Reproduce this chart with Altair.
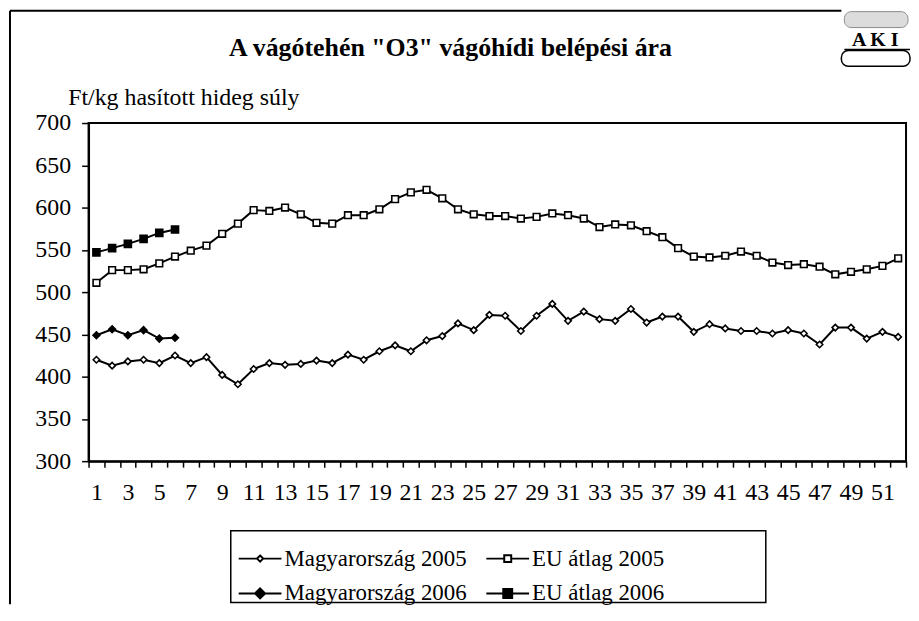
import altair as alt
import pandas as pd

weeks = list(range(1, 53))
series_names = ["Magyarország 2005", "EU átlag 2005", "Magyarország 2006", "EU átlag 2006"]
legend_order = ["Magyarország 2005", "Magyarország 2006", "EU átlag 2005", "EU átlag 2006"]
hu_2005 = [420, 413, 418, 420, 416, 425, 416, 423, 402, 391, 409, 416, 414, 415, 419, 416,
           426, 420, 430, 437, 430, 443, 448, 463, 455, 473, 472, 454, 472, 486, 466, 477,
           468, 466, 480, 464, 471, 471, 453, 462, 457, 454, 454, 451, 455, 451, 438, 458,
           458, 445, 453, 447]
eu_2005 = [511, 526, 526, 527, 534, 542, 549, 555, 569, 581, 597, 596, 600, 592, 582, 581,
           591, 591, 598, 610, 618, 621, 611, 598, 592, 590, 590, 587, 589, 593, 591, 587,
           577, 580, 579, 572, 565, 552, 542, 541, 543, 548, 543, 535, 532, 533, 530, 521,
           524, 527, 531, 540]
hu_2006 = [449, 456, 449, 455, 445, 446]
eu_2006 = [547, 552, 557, 563, 570, 574]
y_ticks = [300, 350, 400, 450, 500, 550, 600, 650, 700]
title_text = 'A vágótehén "O3" vágóhídi belépési ára'
y_title = "Ft/kg hasított hideg súly"
logo_text = "A K I"

rows = []
for name, vals in zip(series_names, [hu_2005, eu_2005, hu_2006, eu_2006]):
    for w, v in zip(weeks, vals):
        rows.append({"series": name, "week": w, "value": v})
df = pd.DataFrame(rows)

W, H = 822, 340
FONT = "Liberation Serif"


def sym_path(kind, h):
    c = 0.535
    line = f"M-1,0H{c - h:.3f}M{c + h:.3f},0H2.07"
    if kind == "diamond":
        m = f"M{c:.3f},{-h:.3f}L{c + h:.3f},0L{c:.3f},{h:.3f}L{c - h:.3f},0Z"
    else:
        m = f"M{c - h:.3f},{-h:.3f}H{c + h:.3f}V{h:.3f}H{c - h:.3f}Z"
    return line + m


# legend order: HU 2005, HU 2006, EU 2005, EU 2006
legend_paths = [sym_path("diamond", 0.22), sym_path("diamond", 0.36),
                sym_path("square", 0.25), sym_path("square", 0.32)]
legend_fills = ["white", "black", "white", "black"]
fills = ["white", "white", "black", "black"]

x_enc = alt.X(
    "week:O",
    scale=alt.Scale(type="band", paddingInner=0, paddingOuter=0, domain=weeks),
    axis=alt.Axis(
        title=None, tickBand="extent", labelAngle=0, labelOverlap=False,
        labelExpr="datum.value % 2 == 1 ? datum.label : ''",
        labelFont=FONT, labelFontSize=24, labelColor="black", labelPadding=14,
        tickColor="black", tickSize=6, tickWidth=1.5,
        domainColor="black", domainWidth=2, grid=False,
    ),
)
y_enc = alt.Y(
    "value:Q",
    scale=alt.Scale(domain=[300, 700], nice=False, zero=False),
    axis=alt.Axis(
        values=y_ticks, title=y_title, titleAngle=0, titleAlign="left",
        titleX=-21, titleY=-19, titleBaseline="alphabetic",
        titleFont=FONT, titleFontSize=24, titleFontWeight="normal", titleColor="black",
        labelFont=FONT, labelFontSize=24, labelColor="black", labelPadding=11,
        tickColor="black", tickSize=7, tickWidth=1.5,
        domainColor="black", domainWidth=2, grid=False,
    ),
)

base = alt.Chart(df)

lines = base.mark_line(color="black", strokeWidth=2).encode(
    x=x_enc, y=y_enc, detail="series:N"
)

points = base.mark_point(filled=True, stroke="black", strokeWidth=1.6, opacity=1).encode(
    x=x_enc, y=y_enc,
    shape=alt.Shape("series:N", scale=alt.Scale(domain=series_names,
                    range=["diamond", "square", "diamond", "square"]), legend=None),
    fill=alt.Fill("series:N", scale=alt.Scale(domain=series_names, range=fills), legend=None),
    size=alt.Size("series:N", scale=alt.Scale(domain=series_names, range=[42, 50, 110, 90]),
                  legend=None),
)

legend_cfg = dict(
    orient="none", legendX=150, legendY=423, columns=2, columnPadding=15, rowPadding=8,
    padding=0, title=None,
    labelFont=FONT, labelFontSize=23, labelColor="black", labelOffset=17, labelLimit=0,
    symbolSize=784, symbolStrokeColor="black", symbolStrokeWidth=2, symbolOpacity=1,
)

legend_layer = base.mark_point(filled=False, color="black", strokeWidth=2, opacity=0).encode(
    x=x_enc, y=y_enc,
    shape=alt.Shape("series:N", scale=alt.Scale(domain=legend_order, range=legend_paths),
                    legend=alt.Legend(**legend_cfg)),
    fill=alt.Fill("series:N", scale=alt.Scale(domain=legend_order, range=legend_fills),
                  legend=alt.Legend(**legend_cfg)),
    stroke=alt.Stroke("series:N", scale=alt.Scale(domain=legend_order,
                      range=["black", "black", "black", "black"]),
                      legend=alt.Legend(**legend_cfg)),
)

one = pd.DataFrame({"t": [title_text]})
title_layer = alt.Chart(one).mark_text(
    font=FONT, fontSize=26, fontWeight="bold", color="black", align="center",
    baseline="alphabetic",
).encode(text="t:N", x=alt.value(364), y=alt.value(-67))

deco = alt.Chart(pd.DataFrame({"k": [0]}))
frame_left = deco.mark_rule(color="black", strokeWidth=2).encode(
    x=alt.value(-79), y=alt.value(-113), y2=alt.value(484))
frame_top = deco.mark_rule(color="black", strokeWidth=2).encode(
    x=alt.value(-79), x2=alt.value(757), y=alt.value(-113))
legend_box = deco.mark_rect(fill="white", stroke="black", strokeWidth=1.5).encode(
    x=alt.value(143), x2=alt.value(681), y=alt.value(410), y2=alt.value(482))
logo_top = deco.mark_rect(fill="#dcdcdc", stroke="#8a8a8a", strokeWidth=1, cornerRadius=7).encode(
    x=alt.value(760), x2=alt.value(824), y=alt.value(-112), y2=alt.value(-96))
logo_bottom = deco.mark_rect(fill="white", stroke="black", strokeWidth=1.5, cornerRadius=7).encode(
    x=alt.value(757), x2=alt.value(826), y=alt.value(-73), y2=alt.value(-57))
logo_rule = deco.mark_rule(color="black", strokeWidth=1.5).encode(
    x=alt.value(760), x2=alt.value(826), y=alt.value(-74))
logo_txt = alt.Chart(pd.DataFrame({"t": [logo_text]})).mark_text(
    font=FONT, fontSize=20, fontWeight="bold", color="black", align="center",
    baseline="alphabetic",
).encode(text="t:N", x=alt.value(791), y=alt.value(-77))

chart = alt.layer(
    frame_left, frame_top, legend_box, logo_top, logo_bottom, logo_rule, logo_txt,
    lines, points, legend_layer, title_layer,
).resolve_scale(shape="independent", fill="independent", stroke="independent").properties(
    width=W, height=H, padding={"left": 1, "top": 0, "right": 0, "bottom": 5},
    background="white",
).configure_view(stroke="black", strokeWidth=2)

chart.save("out.html", embed_options={"renderer": "svg", "actions": False})
